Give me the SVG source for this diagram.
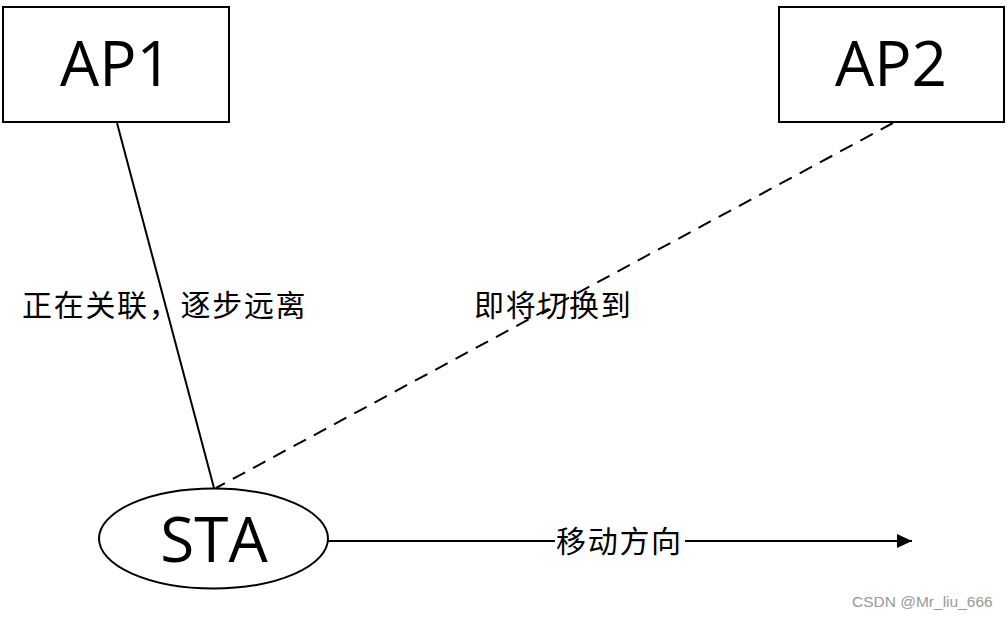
<svg xmlns="http://www.w3.org/2000/svg" width="1008" height="618" viewBox="0 0 1008 618">
<style>
.box{fill:#fff;stroke:#000;stroke-width:2}
.big{font-family:"Open Sans","Noto Sans",sans-serif;font-size:62px;fill:#000;text-anchor:middle}
.cn{font-family:"Noto Sans CJK SC",sans-serif;font-size:30px;letter-spacing:1.7px;fill:#000}
.ln{stroke:#000;stroke-width:2;fill:none}
</style>
<defs>
<marker id="arr" markerWidth="16" markerHeight="14" refX="15" refY="7" orient="auto" markerUnits="userSpaceOnUse">
<path d="M0,0 L15,7 L0,14 Z" fill="#000"/>
</marker>
</defs>
<rect width="1008" height="618" fill="#fff"/>
<g id="connectors">
<line class="ln" x1="117" y1="123" x2="214" y2="488"/>
<line class="ln" x1="893" y1="123" x2="216" y2="488" stroke-dasharray="14,9"/>
<line class="ln" x1="328" y1="541" x2="555" y2="541"/>
<line class="ln" x1="685" y1="541" x2="912" y2="541" marker-end="url(#arr)"/>
</g>
<g id="ap1">
<rect class="box" x="3" y="7" width="226" height="115"/>
<text class="big" x="116" y="86">AP1</text>
</g>
<g id="ap2">
<rect class="box" x="779" y="7" width="225" height="115"/>
<text class="big" x="891" y="86">AP2</text>
</g>
<g id="sta">
<ellipse class="box" cx="213.5" cy="538.5" rx="114.5" ry="50"/>
<text class="big" x="214" y="562">STA</text>
</g>
<g id="labels">
<text class="cn" x="22" y="316">正在关联，逐步远离</text>
<text class="cn" x="474" y="316">即将切换到</text>
<text class="cn" x="556" y="552">移动方向</text>
<text x="852" y="607" font-family="Liberation Sans,Arial,sans-serif" font-size="15.5" fill="#999">CSDN @Mr_liu_666</text>
</g>
</svg>
